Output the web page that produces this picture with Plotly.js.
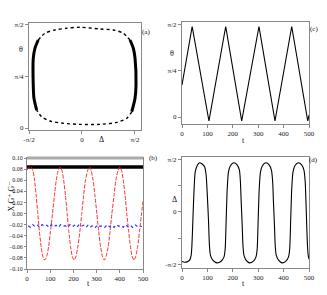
<!DOCTYPE html>
<html>
<head>
<meta charset="utf-8">
<script src="https://cdn.plot.ly/plotly-3.0.1.min.js"></script>
<style>html,body{margin:0;padding:0;background:#fff;}#chart{width:327px;height:295px;}</style>
</head>
<body>
<div id="chart"></div>
<script>
const PI = Math.PI;

// ---- Panel (a): phase portrait theta vs Delta ----
const aLeftDelta  = [-1.344, -1.424, -1.445, -1.445, -1.395, -1.297];
const aLeftTheta  = [ 0.274,  0.453,  0.655,  1.063,  1.215,  1.341];
const aTopDelta   = [-1.297, -1.098, -0.801, -0.454, -0.059, 0.534, 0.929, 1.225, 1.424];
const aTopTheta   = [ 1.341,  1.444,  1.494,  1.520,  1.535, 1.509, 1.494, 1.444, 1.341];
const aRightDelta = [1.424, 1.522, 1.573, 1.602, 1.573, 1.475];
const aRightTheta = [1.341, 1.215, 1.063, 0.655, 0.453, 0.248];
const aBotDelta   = [1.475, 1.326, 1.030, 0.534, -0.059, -0.555, -0.950, -1.196, -1.344];
const aBotTheta   = [0.248, 0.148, 0.087, 0.056,  0.056,  0.072,  0.107,  0.172,  0.274];

// ---- Panel (c): theta vs t ----
const cT     = [0, 40, 106, 172, 235, 303, 366, 432, 495, 500];
const cTheta = [0.546, 1.544, -0.068, 1.544, -0.068, 1.544, -0.068, 1.544, -0.068, 0.034];

// ---- Panel (b): X, G+, G- vs t ----
const bBlackT = [0, 100, 200, 300, 400, 500];
const bBlackV = [0.084, 0.084, 0.084, 0.084, 0.084, 0.084];
const bRedT = [0, 8, 17, 26, 32, 39, 46, 53, 61, 68, 76, 85, 93, 101, 110, 118, 126, 134, 143, 151, 158, 166, 173, 180, 188, 195, 203, 211, 219, 228, 236, 244, 252, 261, 269, 277, 285, 293, 301, 309, 317, 325, 333, 341, 350, 358, 366, 375, 383, 392, 400, 408, 415, 423, 430, 438, 446, 453, 461, 469, 477, 485, 493, 500];
const bRedV = [0.078, 0.083, 0.084, 0.076, 0.062, 0.034, 0.002, -0.030, -0.060, -0.077, -0.084, -0.077, -0.060, -0.033, 0.000, 0.032, 0.060, 0.077, 0.084, 0.077, 0.060, 0.032, 0.000, -0.032, -0.060, -0.077, -0.084, -0.077, -0.060, -0.032, 0.000, 0.032, 0.060, 0.077, 0.084, 0.077, 0.060, 0.032, 0.000, -0.032, -0.060, -0.077, -0.084, -0.077, -0.060, -0.032, 0.000, 0.032, 0.060, 0.077, 0.084, 0.077, 0.060, 0.032, 0.000, -0.032, -0.060, -0.077, -0.084, -0.077, -0.060, -0.032, -0.003, 0.022];
const bBlueT = [5, 15, 25, 35, 45, 55, 65, 75, 85, 95, 105, 115, 125, 135, 145, 155, 165, 175, 185, 195, 205, 215, 225, 235, 245, 255, 265, 275, 285, 295, 305, 315, 325, 335, 345, 355, 365, 375, 385, 395, 405, 415, 425, 435, 445, 455, 465, 475, 485, 495];
const bBlueV = [-0.022, -0.025, -0.020, -0.024, -0.021, -0.025, -0.020, -0.023, -0.021, -0.025, -0.020, -0.024, -0.021, -0.025, -0.020, -0.023, -0.022, -0.025, -0.020, -0.024, -0.021, -0.025, -0.020, -0.023, -0.021, -0.025, -0.020, -0.024, -0.021, -0.025, -0.020, -0.023, -0.022, -0.025, -0.020, -0.024, -0.021, -0.025, -0.020, -0.023, -0.021, -0.025, -0.020, -0.024, -0.021, -0.025, -0.020, -0.023, -0.022, -0.024];

// ---- Panel (d): Delta vs t ----
const dT = [0, 10, 20, 30, 36, 39, 43, 47, 52, 60, 69, 78, 89, 95, 99, 104, 108, 112, 121, 138, 154, 165, 170, 174, 178, 183, 191, 204, 217, 226, 230, 233, 237, 240, 244, 252, 266, 281, 291, 296, 300, 304, 309, 317, 330, 343, 352, 357, 360, 364, 367, 371, 380, 394, 409, 419, 424, 428, 432, 437, 445, 458, 471, 480, 485, 488, 491, 494, 497, 500];
const dDelta = [-1.47, -1.49, -1.48, -1.43, -1.29, -0.99, -0.20, 0.59, 1.19, 1.38, 1.46, 1.43, 1.34, 1.09, 0.59, -0.20, -0.99, -1.29, -1.43, -1.51, -1.46, -1.34, -1.09, -0.20, 0.69, 1.19, 1.38, 1.46, 1.40, 1.24, 0.89, 0.30, -0.40, -1.00, -1.29, -1.43, -1.51, -1.46, -1.34, -1.09, -0.20, 0.69, 1.19, 1.38, 1.46, 1.40, 1.24, 0.89, 0.30, -0.40, -1.00, -1.29, -1.43, -1.51, -1.46, -1.34, -1.09, -0.20, 0.69, 1.19, 1.38, 1.46, 1.40, 1.24, 0.89, 0.30, -0.40, -1.00, -1.29, -1.40];

const thick = {color:'#000', width:3, shape:'spline', smoothing:0.8};
const thin  = {color:'#000', width:1.4, dash:'dot', shape:'spline', smoothing:0.8};

const data = [
  {x:aLeftDelta, y:aLeftTheta, mode:'lines', line:thick, xaxis:'x', yaxis:'y'},
  {x:aTopDelta, y:aTopTheta, mode:'lines', line:thin, xaxis:'x', yaxis:'y'},
  {x:aRightDelta, y:aRightTheta, mode:'lines', line:thick, xaxis:'x', yaxis:'y'},
  {x:aBotDelta, y:aBotTheta, mode:'lines', line:thin, xaxis:'x', yaxis:'y'},
  {x:cT, y:cTheta, mode:'lines', line:{color:'#000', width:1.1}, xaxis:'x2', yaxis:'y2'},
  {x:bBlackT, y:bBlackV, mode:'lines', line:{color:'#000', width:3.5}, xaxis:'x3', yaxis:'y3'},
  {x:bRedT, y:bRedV, mode:'lines', line:{color:'#ff1a1a', width:0.9, dash:'4px,1.5px', shape:'spline', smoothing:0.6}, xaxis:'x3', yaxis:'y3'},
  {x:bBlueT, y:bBlueV, mode:'lines', line:{color:'#3030ff', width:1.2, dash:'dot'}, xaxis:'x3', yaxis:'y3'},
  {x:dT, y:dDelta, mode:'lines', line:{color:'#000', width:1.1, shape:'spline', smoothing:0.6}, xaxis:'x4', yaxis:'y4'}
];

const ax = {showline:true, mirror:true, linecolor:'#888', linewidth:1, ticks:'outside', ticklen:3, tickcolor:'#888', tickwidth:1, showgrid:false, zeroline:false, fixedrange:true, tickfont:{size:7, color:'#222'}};
const af = {size:8, color:'#111', family:'Liberation Serif, DejaVu Serif, serif'};

const layout = {
  width:327, height:295, margin:{l:0, r:0, t:0, b:0},
  paper_bgcolor:'#fff', plot_bgcolor:'#fff', showlegend:false,
  font:{family:'Liberation Serif, DejaVu Serif, serif', size:7, color:'#222'},
  xaxis: Object.assign({}, ax, {domain:[0.0887,0.4312], range:[-1.571,1.75], tickvals:[-PI/2,0,PI/2], ticktext:['-π/2','0','π/2'], anchor:'y'}),
  yaxis: Object.assign({}, ax, {domain:[0.5593,0.9220], range:[-0.03,1.60], tickvals:[0,PI/4,PI/2], ticktext:['0','π/4','π/2'], anchor:'x'}),
  xaxis2: Object.assign({}, ax, {domain:[0.5566,0.9450], range:[0,500], dtick:100, anchor:'y2'}),
  yaxis2: Object.assign({}, ax, {domain:[0.5797,0.9254], range:[-0.119,1.621], tickvals:[0,PI/4,PI/2], ticktext:['0','π/4','π/2'], anchor:'x2'}),
  xaxis3: Object.assign({}, ax, {domain:[0.0826,0.4373], range:[0,500], dtick:100, anchor:'y3'}),
  yaxis3: Object.assign({}, ax, {domain:[0.0881,0.4644], range:[-0.10,0.10], dtick:0.02, tickformat:'.2f', anchor:'x3', ticklen:2, tickfont:{size:6, color:'#222'}}),
  xaxis4: Object.assign({}, ax, {domain:[0.5566,0.9450], range:[0,500], dtick:100, anchor:'y4'}),
  yaxis4: Object.assign({}, ax, {domain:[0.0915,0.4678], range:[-1.662,1.632], tickvals:[-PI/2,-PI/4,0,PI/4,PI/2], ticktext:['-π/2','','0','','π/2'], anchor:'x4'}),
  shapes: [
    {type:'line', xref:'x3 domain', yref:'y3 domain', x0:0, x1:1, y0:1, y1:1, line:{color:'#aaa', width:3}}
  ],
  annotations: [
    {text:'(a)', x:0.447, y:0.912, xref:'paper', yref:'paper', showarrow:false, font:Object.assign({}, af, {size:7})},
    {text:'θ', x:0.052, y:0.854, xref:'paper', yref:'paper', showarrow:false, font:af},
    {text:'Δ', x:0.297, y:0.526, xref:'paper', yref:'paper', showarrow:false, font:af},
    {text:'(c)', x:0.979, y:0.922, xref:'paper', yref:'paper', showarrow:false, font:Object.assign({}, af, {size:7})},
    {text:'θ', x:0.526, y:0.841, xref:'paper', yref:'paper', showarrow:false, font:af},
    {text:'t', x:0.755, y:0.525, xref:'paper', yref:'paper', showarrow:false, font:af},
    {text:'(b)', x:0.468, y:0.464, xref:'paper', yref:'paper', showarrow:false, font:Object.assign({}, af, {size:7})},
    {text:'X,G⁺,G⁻', x:0.018, y:0.278, xref:'paper', yref:'paper', showarrow:false, textangle:-90, font:af},
    {text:'t', x:0.26, y:0.017, xref:'paper', yref:'paper', showarrow:false, font:af},
    {text:'(d)', x:0.979, y:0.458, xref:'paper', yref:'paper', showarrow:false, font:Object.assign({}, af, {size:7})},
    {text:'Δ', x:0.535, y:0.302, xref:'paper', yref:'paper', showarrow:false, font:af},
    {text:'t', x:0.755, y:0.017, xref:'paper', yref:'paper', showarrow:false, font:af}
  ]
};

Plotly.newPlot('chart', data, layout, {staticPlot:true, displayModeBar:false});
</script>
</body>
</html>
